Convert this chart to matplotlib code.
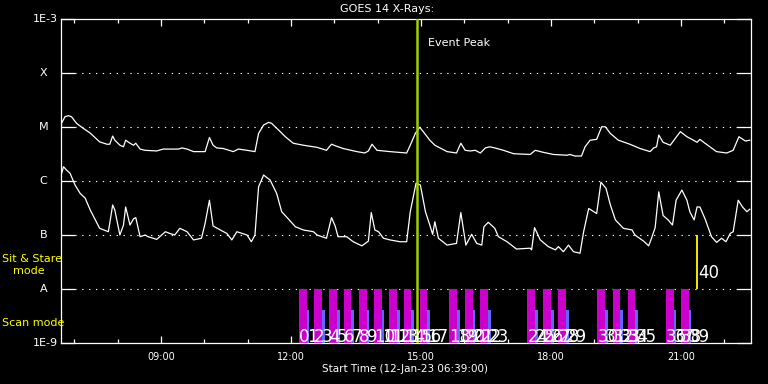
import matplotlib
matplotlib.use('Agg')
import matplotlib.pyplot as plt
import matplotlib.transforms as mtransforms
from matplotlib.ticker import NullLocator
import numpy as np


def hours(stamps):
    return np.array([int(s[:2]) + int(s[3:]) / 60 for s in stamps])


# GOES long channel (1-8 A), W/m^2
long_t = ['06:41', '06:47', '06:52', '06:56', '07:03', '07:12', '07:22', '07:35', '07:45', '07:49',
          '07:53', '07:56', '08:03', '08:08', '08:11', '08:17', '08:22', '08:25', '08:31', '08:38',
          '08:54', '09:03', '09:24', '09:29', '09:36', '09:45', '10:01', '10:07', '10:12', '10:17',
          '10:26', '10:40', '10:47', '10:59', '11:10', '11:15', '11:22', '11:29', '11:33', '11:45',
          '11:52', '12:03', '12:17', '12:36', '12:49', '12:56', '13:03', '13:12', '13:31', '13:42',
          '13:47', '13:52', '13:59', '14:17', '14:40', '14:45', '14:52', '14:58', '15:03', '15:12',
          '15:19', '15:36', '15:49', '15:55', '16:01', '16:08', '16:15', '16:22', '16:29', '16:35',
          '16:42', '16:54', '17:08', '17:31', '17:38', '17:49', '18:03', '18:22', '18:26', '18:33',
          '18:42', '18:47', '18:54', '19:03', '19:10', '19:15', '19:22', '19:33', '19:49', '20:03',
          '20:17', '20:22', '20:26', '20:29', '20:35', '20:45', '20:52', '20:59', '21:08', '21:17',
          '21:22', '21:26', '21:33', '21:49', '22:03', '22:12', '22:20', '22:29', '22:35']
long_flux = [1.09e-5, 1.55e-5, 1.62e-5, 1.55e-5, 1.17e-5, 9.5e-6, 7.7e-6, 5.3e-6, 4.8e-6, 4.8e-6,
             6.8e-6, 5.7e-6, 4.6e-6, 4.3e-6, 5.7e-6, 5.0e-6, 4.6e-6, 5.0e-6, 3.9e-6, 3.7e-6,
             3.6e-6, 3.9e-6, 3.9e-6, 4.1e-6, 3.9e-6, 3.5e-6, 3.5e-6, 6.4e-6, 4.6e-6, 4.1e-6,
             4.0e-6, 3.5e-6, 3.9e-6, 3.7e-6, 3.5e-6, 7.6e-6, 1.09e-5, 1.22e-5, 1.17e-5, 8.2e-6,
             6.6e-6, 5.0e-6, 4.6e-6, 4.2e-6, 3.7e-6, 4.8e-6, 4.4e-6, 4.0e-6, 3.5e-6, 3.3e-6,
             3.6e-6, 4.8e-6, 3.7e-6, 3.5e-6, 3.3e-6, 4.6e-6, 7.6e-6, 9.9e-6, 8.2e-6, 5.7e-6,
             4.6e-6, 3.5e-6, 3.3e-6, 5.0e-6, 3.7e-6, 3.6e-6, 3.7e-6, 3.3e-6, 4.1e-6, 4.3e-6,
             4.1e-6, 3.7e-6, 3.2e-6, 3.1e-6, 3.7e-6, 3.4e-6, 3.1e-6, 3.0e-6, 3.1e-6, 2.9e-6,
             2.9e-6, 4.3e-6, 5.7e-6, 5.9e-6, 1.01e-5, 1.01e-5, 7.6e-6, 5.7e-6, 4.8e-6, 4.0e-6,
             3.5e-6, 4.1e-6, 4.3e-6, 7.1e-6, 5.2e-6, 4.6e-6, 6.2e-6, 8.2e-6, 6.6e-6, 5.7e-6,
             5.2e-6, 5.9e-6, 5.0e-6, 3.5e-6, 3.3e-6, 3.7e-6, 6.6e-6, 5.5e-6, 5.7e-6]

# GOES short channel (0.5-4 A), W/m^2
short_t = ['06:41', '06:45', '06:49', '06:54', '07:01', '07:08', '07:15', '07:22', '07:29', '07:35',
           '07:47', '07:49', '07:53', '07:56', '08:03', '08:08', '08:11', '08:17', '08:22', '08:25',
           '08:31', '08:38', '08:42', '08:54', '09:06', '09:12', '09:19', '09:26', '09:36', '09:45',
           '09:56', '10:01', '10:07', '10:12', '10:22', '10:31', '10:38', '10:45', '10:52', '10:59',
           '11:05', '11:10', '11:15', '11:22', '11:31', '11:40', '11:47', '11:56', '12:06', '12:17',
           '12:31', '12:36', '12:49', '12:56', '13:01', '13:05', '13:17', '13:26', '13:38', '13:47',
           '13:51', '13:56', '14:01', '14:08', '14:17', '14:31', '14:40', '14:45', '14:53', '14:59',
           '15:06', '15:12', '15:16', '15:19', '15:24', '15:36', '15:49', '15:55', '16:02', '16:10',
           '16:17', '16:24', '16:27', '16:33', '16:42', '16:47', '16:59', '17:12', '17:31', '17:33',
           '17:37', '17:45', '17:56', '18:06', '18:10', '18:17', '18:24', '18:31', '18:40', '18:45',
           '18:52', '18:59', '19:03', '19:09', '19:16', '19:22', '19:29', '19:40', '19:52', '19:56',
           '20:08', '20:15', '20:19', '20:24', '20:29', '20:35', '20:42', '20:48', '20:53', '21:01',
           '21:08', '21:12', '21:18', '21:22', '21:26', '21:33', '21:42', '21:49', '21:56', '22:02',
           '22:08', '22:12', '22:19', '22:25', '22:31', '22:35']
short_flux = [1.20e-6, 1.84e-6, 1.60e-6, 1.39e-6, 8.4e-7, 5.9e-7, 4.8e-7, 2.9e-7, 1.9e-7, 1.33e-7,
              1.15e-7, 1.65e-7, 3.6e-7, 2.9e-7, 1.0e-7, 1.53e-7, 3.3e-7, 1.53e-7, 2.0e-7, 2.1e-7,
              9.3e-8, 1.0e-7, 9.3e-8, 8.3e-8, 1.15e-7, 1.07e-7, 1.0e-7, 1.33e-7, 1.15e-7, 8.1e-8,
              8.7e-8, 1.65e-7, 4.4e-7, 1.47e-7, 1.24e-7, 1.07e-7, 8.1e-8, 1.15e-7, 1.07e-7, 1.0e-7,
              7.5e-8, 1.0e-7, 7.8e-7, 1.29e-6, 1.04e-6, 5.9e-7, 2.7e-7, 2.0e-7, 1.42e-7, 1.24e-7,
              1.15e-7, 1.0e-7, 8.7e-8, 2.1e-7, 1.47e-7, 9.3e-8, 9.3e-8, 7.5e-8, 6.3e-8, 7.7e-8,
              2.6e-7, 1.24e-7, 1.15e-7, 8.7e-8, 8.1e-8, 7.5e-8, 7.5e-8, 2.7e-7, 9.1e-7, 8.4e-7,
              2.7e-7, 1.53e-7, 1.03e-7, 1.76e-7, 8.7e-8, 6.5e-8, 7.0e-8, 2.6e-7, 6.5e-8, 1.03e-7,
              7.0e-8, 6.5e-8, 1.42e-7, 1.72e-7, 1.33e-7, 9.3e-8, 7.5e-8, 5.5e-8, 5.7e-8, 5.3e-8,
              1.37e-7, 8.1e-8, 6.1e-8, 5.3e-8, 6.1e-8, 4.9e-8, 6.5e-8, 4.9e-8, 4.6e-8, 1.15e-7,
              3.1e-7, 2.7e-7, 2.5e-7, 9.5e-7, 7.3e-7, 3.6e-7, 1.9e-7, 1.33e-7, 1.24e-7, 1.0e-7,
              7.7e-8, 6.3e-8, 8.7e-8, 1.37e-7, 6.3e-7, 2.3e-7, 1.9e-7, 1.53e-7, 4.4e-7, 6.8e-7,
              4.4e-7, 2.7e-7, 1.9e-7, 3.3e-7, 3.3e-7, 2.0e-7, 9.3e-8, 7.3e-8, 8.7e-8, 7.5e-8,
              1.07e-7, 1.15e-7, 4.4e-7, 3.3e-7, 2.7e-7, 3.0e-7]

# scan mode observations
scan_starts = ['12:11', '12:32', '12:53', '13:13', '13:34', '13:55', '14:16', '14:36', '14:58',
               '15:39', '16:01', '16:22', '17:27', '17:49', '18:10', '19:04', '19:25', '19:46',
               '20:39', '21:00']
scan_minutes = 10.6
blue_minutes = 3.7
scan_top = 1e-8
blue_top = 4.1e-9

stare_time = '21:22'
stare_label = '40'
peak_time = '14:55'

level_flux = [1e-9, 1e-8, 1e-7, 1e-6, 1e-5, 1e-4, 1e-3]
level_names = ['1E-9', 'A', 'B', 'C', 'M', 'X', '1E-3']
hour_ticks = [9, 12, 15, 18, 21]

W, H = 768, 384
fig = plt.figure(figsize=(W / 100, H / 100), dpi=100, facecolor='black')
ax = fig.add_axes([60.5 / W, 41 / H, 690 / W, 324 / H], facecolor='black')

ax.set_yscale('log')
ax.set_ylim(level_flux[0], level_flux[-1])
ax.set_xlim(6.68, 22.60)

for f in level_flux[1:-1]:
    ax.axhline(f, color='white', lw=0.8, ls=(0, (1.2, 5.0)), zorder=1)

starts = hours(scan_starts)
ax.bar(starts, scan_top - level_flux[0], width=scan_minutes / 60, bottom=level_flux[0],
       align='edge', color='#cc00cc', zorder=2)
ax.bar(starts + scan_minutes / 60, blue_top - level_flux[0], width=blue_minutes / 60,
       bottom=level_flux[0], align='edge', color='#6464ff', zorder=2)

ax.plot(hours(long_t), long_flux, color='white', lw=0.9, zorder=3)
ax.plot(hours(short_t), short_flux, color='white', lw=0.9, zorder=3)

peak_h = hours([peak_time])[0]
ax.axvline(peak_h, color='#a0d000', lw=1.8, zorder=4)
ax.annotate('Event Peak', xy=(peak_h, 3.6e-4), xytext=(7.5, 0), textcoords='offset points',
            va='center', ha='left', color='white', fontsize=8)

stare_h = hours([stare_time])[0]
ax.vlines(stare_h, level_flux[1], level_flux[2], color='#ffff00', lw=1.3, zorder=4)
ax.annotate(stare_label, xy=(stare_h, 1.6e-8), xytext=(1, 0), textcoords='offset points',
            va='baseline', ha='left', color='white', fontsize=12, zorder=6)

for k, s in enumerate(starts):
    ax.text(s, 1.05e-9, str(2 * k), color='white', fontsize=12, va='baseline', ha='left', zorder=6)
    ax.text(s + scan_minutes / 60, 1.05e-9, str(2 * k + 1), color='white', fontsize=12,
            va='baseline', ha='left', zorder=6)

# axes styling
for sp in ax.spines.values():
    sp.set_color('white')
    sp.set_linewidth(0.9)
ax.set_yticks(level_flux)
ax.set_yticklabels([])
ax.yaxis.set_minor_locator(NullLocator())
ax.tick_params(axis='y', which='major', direction='in', length=10, width=0.9, color='white',
               left=True, right=True, labelleft=False)
ax.set_xticks(hour_ticks)
ax.set_xticklabels(['%02d:00' % h for h in hour_ticks])
ax.set_xticks(range(7, 23), minor=True)
ax.tick_params(axis='x', which='major', direction='in', length=5, width=0.9, color='white',
               labelcolor='white', labelsize=7, pad=6.5, top=True, bottom=True)
ax.tick_params(axis='x', which='minor', direction='in', length=3, width=0.9, color='white',
               top=True, bottom=True)

trans = mtransforms.blended_transform_factory(fig.transFigure, ax.transData)
for f, name in zip(level_flux, level_names):
    if name.startswith('1E'):
        ax.text(57.5 / W, f, name, transform=trans, ha='right', va='center', color='white', fontsize=8)
    else:
        ax.text(43.7 / W, f, name, transform=trans, ha='center', va='center', color='white', fontsize=8)

fig.text(1.7 / W, 1 - 259 / H, 'Sit & Stare', color='#ffff00', fontsize=8, ha='left', va='center')
fig.text(12.7 / W, 1 - 271 / H, 'mode', color='#ffff00', fontsize=8, ha='left', va='center')
fig.text(1.7 / W, 1 - 323.5 / H, 'Scan mode', color='#ffff00', fontsize=8, ha='left', va='center')

fig.text(387 / W, 1 - 9.5 / H, 'GOES 14 X-Rays:', color='white', fontsize=8, ha='center', va='center')
fig.text(405 / W, 1 - 369 / H, 'Start Time (12-Jan-23 06:39:00)', color='white', fontsize=7.5,
         ha='center', va='center')

fig.savefig('out.png', dpi=100, facecolor='black')
